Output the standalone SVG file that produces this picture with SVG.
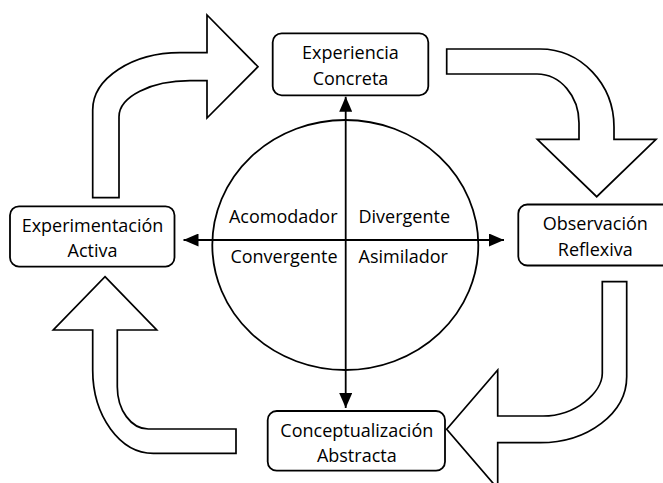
<svg xmlns="http://www.w3.org/2000/svg" width="663" height="483" viewBox="0 0 663 483">
  <style>
    .box { fill: #ffffff; stroke: #000000; stroke-width: 1.8; }
    .flow { fill: #ffffff; stroke: #000000; stroke-width: 1.7; stroke-linejoin: miter; }
    .axis { fill: none; stroke: #000000; stroke-width: 1.8; }
    .label { font-family: "Open Sans", "Liberation Sans", sans-serif; font-size: 18px; fill: #000000; }
    .mid { text-anchor: middle; }
    .end { text-anchor: end; }
  </style>
  <defs>
    <marker id="tip" viewBox="0 0 15 13" refX="15" refY="6.5" markerWidth="15" markerHeight="13" markerUnits="userSpaceOnUse" orient="auto-start-reverse">
      <path d="M0,0 L15,6.5 L0,13 Z" fill="#000000"/>
    </marker>
  </defs>
  <rect width="663" height="483" fill="#ffffff"/>

  <!-- curved block arrows of the cycle -->
  <g id="connectors">
    <path class="flow" d="M92.7,197.7 L92.7,110 C92.7,78.5 132,52.7 180,52.7 L207,52.7 L207,15 L258,66.7 L207,118 L207,80.7 L190,80.7 C150.8,80.7 119,96.8 119,116.7 L119,197.7 Z"/>
    <path class="flow" d="M446.7,49 L540,49 C580.9,49 614,83.9 614,127 L614,139.3 L656,139.3 L596.7,196.7 L537.3,139.3 L579,139.3 L579,123 C579,95.9 560.2,74 537,74 L446.7,74 Z"/>
    <path class="flow" d="M602.3,281.7 L626.7,281.7 L626.7,376.7 C626.7,413.1 587.9,442.7 540,442.7 L497.7,442.7 L497.7,488.6 L446.7,429.3 L497.7,370 L497.7,416 L543,416 C575.6,416 602.3,392.4 602.3,373.3 Z"/>
    <path class="flow" d="M105,276.7 L156.7,330 L117.3,330 L117.3,386.7 C117.3,410.1 131.2,429 148.3,429 L236,429 L236,453.3 L153.3,453.3 C120,453.3 92.7,416 92.7,370 L92.7,330 L53.3,330 Z"/>
  </g>

  <!-- learning-style circle with its two axes -->
  <g id="styles">
    <ellipse class="axis" cx="345.3" cy="245" rx="133" ry="125"/>
    <line class="axis" x1="345.7" y1="96.7" x2="345.7" y2="408" marker-start="url(#tip)" marker-end="url(#tip)"/>
    <line class="axis" x1="183.5" y1="240" x2="504" y2="240" marker-start="url(#tip)" marker-end="url(#tip)"/>
    <text class="label end" x="337.5" y="223.3">Acomodador</text>
    <text class="label" x="358.5" y="223.3">Divergente</text>
    <text class="label end" x="337.5" y="262.5">Convergente</text>
    <text class="label" x="358.5" y="262.5">Asimilador</text>
  </g>

  <g id="node-experiencia">
    <rect class="box" x="272.7" y="33.3" width="155.6" height="62" rx="9"/>
    <text class="label mid" x="350.5" y="59.3">Experiencia</text>
    <text class="label mid" x="350.5" y="85.3">Concreta</text>
  </g>

  <g id="node-observacion">
    <rect class="box" x="518.3" y="204.5" width="154" height="61" rx="9"/>
    <text class="label mid" x="595.3" y="230">Observación</text>
    <text class="label mid" x="595.3" y="255.5">Reflexiva</text>
  </g>

  <g id="node-conceptualizacion">
    <rect class="box" x="267.7" y="411" width="177.3" height="59.7" rx="9"/>
    <text class="label mid" x="356.8" y="436.7">Conceptualización</text>
    <text class="label mid" x="356.8" y="462">Abstracta</text>
  </g>

  <g id="node-experimentacion">
    <rect class="box" x="10" y="206.3" width="164.5" height="60.3" rx="9"/>
    <text class="label mid" x="92.5" y="231.7">Experimentación</text>
    <text class="label mid" x="92.5" y="257">Activa</text>
  </g>
</svg>
